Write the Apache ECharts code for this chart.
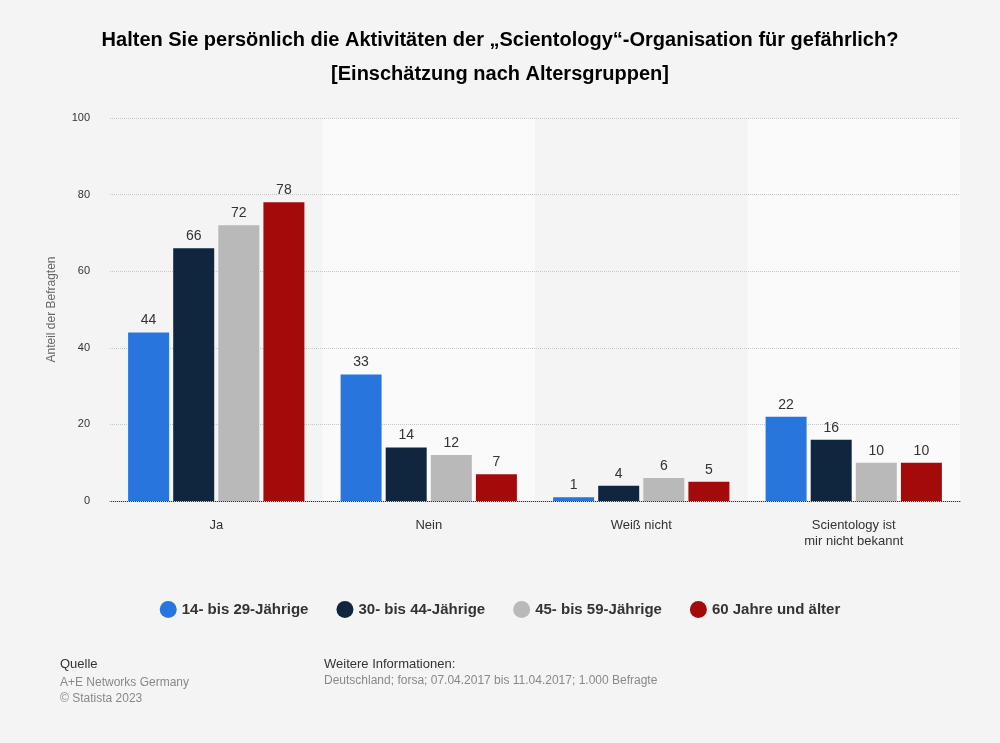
<!DOCTYPE html>
<html><head><meta charset="utf-8">
<script src="https://cdn.jsdelivr.net/npm/echarts@6/dist/echarts.min.js"></script>
<style>body{margin:0;background:#f4f4f4}#c{width:1000px;height:743px}</style>
</head><body><div id="c"></div>
<script>
var categories = ['Ja', 'Nein', 'Weiß nicht', 'Scientology ist\nmir nicht bekannt'];
var seriesNames = ['14- bis 29-Jährige', '30- bis 44-Jährige', '45- bis 59-Jährige', '60 Jahre und älter'];
var colors = ['#2876dd', '#10263f', '#b9b9b9', '#a30b0b'];
var v1429 = [44, 33, 1, 22];
var v3044 = [66, 14, 4, 16];
var v4559 = [72, 12, 6, 10];
var v60 = [78, 7, 5, 10];
var values = [v1429, v3044, v4559, v60];

var chart = echarts.init(document.getElementById('c'));
var series = seriesNames.map(function (n, i) {
    return {
        name: n, type: 'bar', data: values[i], barWidth: 41, barGap: '10%', z: 3,
        itemStyle: { color: colors[i] },
        label: { show: true, position: 'top', color: '#333', fontSize: 14, fontFamily: 'Arial' }
    };
});
chart.setOption({
    backgroundColor: '#f4f4f4',
    textStyle: { fontFamily: 'Arial' },
    title: {
        text: 'Halten Sie persönlich die Aktivitäten der „Scientology“-Organisation für gefährlich?\n[Einschätzung nach Altersgruppen]',
        left: 'center', top: 18,
        textStyle: { fontSize: 20, fontWeight: 'bold', color: '#000', lineHeight: 34 }
    },
    legend: {
        top: 596, left: 'center', icon: 'circle', itemWidth: 17, itemHeight: 17, itemGap: 28,
        textStyle: { fontSize: 15, fontWeight: 'bold', color: '#333' }
    },
    grid: { left: 110, right: 40, top: 118, bottom: 242 },
    xAxis: {
        type: 'category', data: categories, z: 0,
        axisLine: { lineStyle: { color: '#333' } }, axisTick: { show: false },
        axisLabel: { color: '#333', fontSize: 13, margin: 16, lineHeight: 16 },
        splitArea: { show: true, areaStyle: { color: ['#f4f4f4', '#fafafa'] } }
    },
    yAxis: {
        type: 'value', min: 0, max: 100, interval: 20, z: 2,
        name: 'Anteil der Befragten', nameLocation: 'middle', nameGap: 52,
        nameTextStyle: { color: '#666', fontSize: 12 },
        axisLabel: { color: '#333', fontSize: 11, margin: 20 },
        splitLine: { lineStyle: { color: '#c8c8c8', type: 'dotted' } }
    },
    series: series,
    graphic: [
        { type: 'text', left: 60, top: 658, style: { text: 'Quelle', fontSize: 13, fill: '#333' } },
        { type: 'text', left: 60, top: 675, style: { text: 'A+E Networks Germany\n© Statista 2023', fontSize: 12, lineHeight: 16, fill: '#888' } },
        { type: 'text', left: 324, top: 658, style: { text: 'Weitere Informationen:', fontSize: 13, fill: '#333' } },
        { type: 'text', left: 324, top: 675, style: { text: 'Deutschland; forsa; 07.04.2017 bis 11.04.2017; 1.000 Befragte', fontSize: 12, fill: '#888' } }
    ]
});
</script></body></html>
